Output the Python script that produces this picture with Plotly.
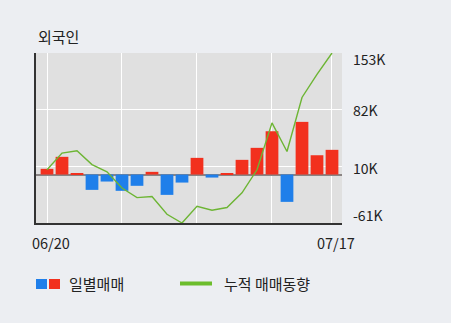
import plotly.graph_objects as go

# ---- data (values in thousands) ----
dates = ["06/20", "06/21", "06/24", "06/25", "06/26", "06/27", "06/28",
         "07/01", "07/02", "07/03", "07/04", "07/05", "07/08", "07/09",
         "07/10", "07/11", "07/12", "07/15", "07/16", "07/17"]
daily = [7.2, 22.3, 1.6, -19.3, -8.8, -20.5, -14.2, 3.4, -25.6, -10.1,
         21.0, -3.8, 1.6, 18.5, 33.6, 54.5, -34.4, 66.3, 24.3, 31.1]
cumulative = [6, 27, 30, 12.5, 3.4, -17, -29, -27.7, -50, -61,
              -40, -45, -41.5, -23, 6, 65, 29, 97, 126, 153]
y_ticks = [153, 82, 10, -61]
y_tick_labels = ["153K", "82K", "10K", "-61K"]
x_label_idx = [0, 19]
x_labels = ["06/20", "07/17"]
title = "외국인"
legend_bar = "일별매매"
legend_line = "누적 매매동향"

RED = "#f2301e"
BLUE = "#1f7fea"
GREEN = "#6db534"
BG = "#eceef2"
PLOT_BG = "#e0e0e0"
FONT = "Noto Sans CJK KR"

# pixel geometry helpers
W, H = 451, 323
L, R, T, B = 36, 342, 53, 223


def px(xp):
    return (xp - L) / (R - L)


def py(yp):
    return (B - yp) / (B - T)


x_idx = list(range(len(dates)))
colors = [RED if v >= 0 else BLUE for v in daily]

fig = go.Figure()
fig.add_trace(go.Bar(x=x_idx, y=daily, marker=dict(color=colors, line=dict(width=0)),
                     width=0.85, showlegend=False, hoverinfo="skip"))
fig.add_trace(go.Scatter(x=x_idx, y=cumulative, mode="lines",
                         line=dict(color=GREEN, width=1.4), showlegend=False,
                         hoverinfo="skip"))

fig.update_layout(
    width=W, height=H,
    margin=dict(l=L, r=W - R, t=T, b=H - B, pad=0),
    paper_bgcolor=BG, plot_bgcolor=PLOT_BG,
    font=dict(family=FONT, size=14, color="#222"),
    bargap=0.15,
    xaxis=dict(range=[-0.733, 19.667], tickvals=[0, 5, 10, 15, 19],
               showticklabels=False, showgrid=True, gridcolor="#ffffff", gridwidth=1,
               zeroline=False, showline=True, linecolor="#333333", linewidth=2,
               ticks=""),
    yaxis=dict(range=[-61, 153], tickvals=y_ticks, showticklabels=False,
               showgrid=True, gridcolor="#ffffff", gridwidth=1,
               zeroline=True, zerolinecolor="#8a8484", zerolinewidth=2,
               showline=True, linecolor="#333333", linewidth=2, ticks=""),
)

annotations = []
# y tick labels on the right
yshifts = [-6, -1, -1, 8]
for v, t, ys in zip(y_ticks, y_tick_labels, yshifts):
    annotations.append(dict(x=1, xref="paper", y=v, yref="y", text=t,
                            xanchor="left", yanchor="middle", xshift=9, yshift=ys,
                            showarrow=False, font=dict(size=14, color="#222")))
# x labels
for i, t in zip(x_label_idx, x_labels):
    annotations.append(dict(x=i, xref="x", y=py(242), yref="paper", text=t,
                            xanchor="center", yanchor="middle", xshift=4,
                            showarrow=False, font=dict(size=14.5, color="#222")))
# title
annotations.append(dict(x=px(36), xref="paper", y=py(37), yref="paper", text=title,
                        xanchor="left", yanchor="middle", showarrow=False,
                        font=dict(size=15, color="#222")))
# legend texts
annotations.append(dict(x=px(67), xref="paper", y=py(283.5), yref="paper", text=legend_bar,
                        xanchor="left", yanchor="middle", showarrow=False,
                        font=dict(size=15, color="#222")))
annotations.append(dict(x=px(222), xref="paper", y=py(283.5), yref="paper", text=legend_line,
                        xanchor="left", yanchor="middle", showarrow=False,
                        font=dict(size=15, color="#222")))
fig.update_layout(annotations=annotations)

shapes = [
    dict(type="rect", xref="paper", yref="paper", x0=px(36), x1=px(47), y0=py(289), y1=py(279),
         fillcolor=BLUE, line=dict(width=0)),
    dict(type="rect", xref="paper", yref="paper", x0=px(49), x1=px(60), y0=py(289), y1=py(279),
         fillcolor=RED, line=dict(width=0)),
    dict(type="line", xref="paper", yref="paper", x0=px(180), x1=px(212), y0=py(283.5), y1=py(283.5),
         line=dict(color="#6cbd2c", width=4)),
]
fig.update_layout(shapes=shapes)

fig.write_html("out.html")
